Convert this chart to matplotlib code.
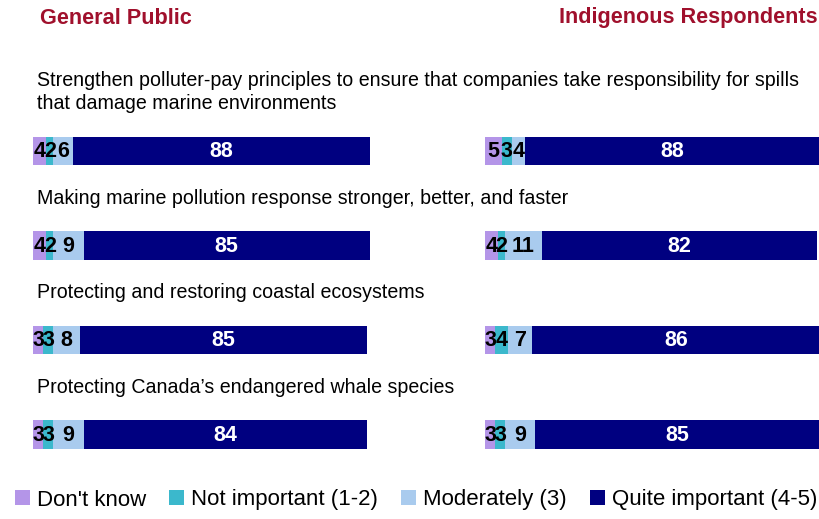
#!/usr/bin/env python3
'''
Stacked horizontal bars: importance of marine protection measures,
General Public vs Indigenous Respondents.
'''

import matplotlib
matplotlib.use("Agg")
import matplotlib.pyplot as plt
from matplotlib.patches import Patch
import numpy as np

plt.rcParams['font.family'] = ['Liberation Sans', 'DejaVu Sans']

questions = [
    "Strengthen polluter-pay principles to ensure that companies take responsibility for spills\nthat damage marine environments",
    "Making marine pollution response stronger, better, and faster",
    "Protecting and restoring coastal ecosystems",
    "Protecting Canada\u2019s endangered whale species",
]
categories = ["Don't know", "Not important (1-2)", "Moderately (3)", "Quite important (4-5)"]
colors = ["#B495E8", "#3BB8CC", "#A9CBEE", "#000080"]
text_colors = ["black", "black", "black", "white"]

# rows = questions, columns = categories
general = np.array([
    [4, 2, 6, 88],
    [4, 2, 9, 85],
    [3, 3, 8, 85],
    [3, 3, 9, 84],
])
indigenous = np.array([
    [5, 3, 4, 88],
    [4, 2, 11, 82],
    [3, 4, 7, 86],
    [3, 3, 9, 85],
])

W, H = 820, 519
fig = plt.figure(figsize=(W / 100, H / 100), dpi=100)

top_px, bot_px = 120, 460
row_gap = 94.5
first_row = 31 / row_gap
ylim = ((bot_px - top_px) / row_gap - first_row, -first_row)


def panel(x0, x1, data):
    ax = fig.add_axes([x0 / W, 1 - bot_px / H, (x1 - x0) / W, (bot_px - top_px) / H])
    y = np.arange(len(data))
    left = np.zeros(len(data))
    for j in range(data.shape[1]):
        vals = data[:, j]
        ax.barh(y, vals, left=left, height=0.3, color=colors[j])
        for i, v in enumerate(vals):
            ax.text(left[i] + v / 2, y[i] + 0.01, str(v), ha='center', va='center',
                    color=text_colors[j], fontsize=15.5, fontweight='bold')
        left = left + vals
    ax.set_xlim(0, 100)
    ax.set_ylim(*ylim)
    ax.axis('off')
    return ax


axl = panel(33, 370, general)
axr = panel(485, 820, indigenous)

# question labels above each row
for i, q in enumerate(questions):
    axl.text(1.2, i - 0.40, q, ha='left', va='bottom', fontsize=14.1,
             linespacing=1.3, clip_on=False)

fig.text(40 / W, 1 - 18 / H, "General Public", ha='left', va='center',
         color='#A0102C', fontsize=15.6, fontweight='bold')
fig.text(818 / W, 1 - 18 / H, "Indigenous Respondents", ha='right', va='center',
         color='#A0102C', fontsize=15.6, fontweight='bold')

handles = [Patch(facecolor=c, edgecolor='none') for c in colors]
fig.legend(handles, categories, loc='center', bbox_to_anchor=(416 / W, 1 - 500 / H),
           ncol=4, frameon=False, fontsize=16,
           handlelength=0.68, handleheight=0.68, handletextpad=0.3,
           columnspacing=1.05, borderaxespad=0, borderpad=0)

fig.savefig("out.png", dpi=100)
